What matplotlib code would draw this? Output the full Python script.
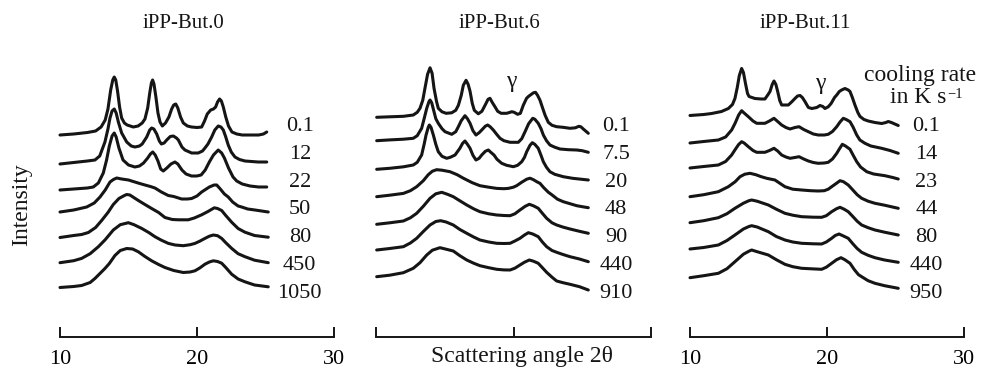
import matplotlib
matplotlib.use("Agg")
import matplotlib.pyplot as plt

plt.rcParams['font.family'] = ['Liberation Serif', 'DejaVu Serif']

# ---------------- data ----------------
titles = ["iPP-But.0", "iPP-But.6", "iPP-But.11"]
rates_but0 = ["0.1", "12", "22", "50", "80", "450", "1050"]
rates_but6 = ["0.1", "7.5", "20", "48", "90", "440", "910"]
rates_but11 = ["0.1", "14", "23", "44", "80", "440", "950"]

# vertical stacking offsets (intensity units)
offsets_but0 = [202, 173, 147, 125, 99.5, 74.3, 49.5]
offsets_but6 = [219.7, 196.3, 167.7, 140.3, 112.7, 87, 60.3]
offsets_but11 = [221.5, 194, 169, 140.3, 114.3, 88, 59.3]

xticks = [10, 20, 30]
xtick_labels = ["10", "20", "30"]

# (2theta, relative intensity)
but0_01 = [(10.0,0),(11.0,1),(12.0,2.5),(12.6,4),(13.0,8),(13.3,15),(13.5,26),(13.7,45),(13.85,55),(13.96,58),(14.07,55),(14.2,44),(14.35,28),(14.5,17),(14.7,12),(14.9,10),(15.35,8),(15.7,9),(16.0,12),(16.2,16),(16.4,27),(16.55,42),(16.67,52),(16.76,55),(16.86,51),(17.0,38),(17.15,22),(17.3,13),(17.47,9),(17.7,12),(17.95,18),(18.15,26),(18.3,30),(18.45,31),(18.6,27),(18.8,18),(19.0,12),(19.3,9),(19.6,8),(20.0,7.5),(20.34,8),(20.55,14),(20.75,21),(21.0,25),(21.2,26),(21.36,28),(21.5,33),(21.65,36),(21.78,34),(21.92,28),(22.1,18),(22.3,9),(22.55,3),(22.9,1),(23.3,0),(24.0,0),(24.5,0),(24.85,1),(25.09,3)]
but0_12 = [(10.0,0),(11.0,1.5),(12.0,3),(12.55,4),(12.9,8),(13.28,22),(13.5,35),(13.65,46),(13.8,53),(13.96,55),(14.1,51),(14.26,42),(14.5,31),(14.87,22),(15.2,18),(15.47,17),(15.8,18),(16.0,20),(16.33,27),(16.55,34),(16.69,36),(16.85,35),(17.06,30),(17.25,23),(17.4,20),(17.6,21),(17.79,24),(18.05,27.5),(18.27,28),(18.5,26),(18.64,24),(18.9,17),(19.12,14),(19.61,11),(20.09,11),(20.4,13),(20.58,16),(20.8,20),(21.07,27),(21.3,34),(21.55,38),(21.75,37),(21.92,34),(22.1,27),(22.28,19),(22.5,12),(22.77,7),(23.1,4.5),(23.5,3),(24.47,2),(25.09,2)]
but0_22 = [(10.0,0),(11.0,1),(12.0,2),(12.43,3),(12.8,7),(13.16,17),(13.4,30),(13.6,44),(13.8,54),(13.96,57),(14.1,53),(14.3,42),(14.6,30),(15.0,25),(15.47,23),(15.8,24),(16.1,27),(16.4,32),(16.6,36),(16.77,38),(16.95,35),(17.15,29),(17.35,21),(17.54,19),(17.8,22),(18.1,26),(18.39,28),(18.6,26),(18.9,20),(19.2,16),(19.6,14),(19.98,14),(20.3,15),(20.6,20),(20.9,28),(21.2,35),(21.55,40),(21.8,37),(22.0,32),(22.3,22),(22.63,13),(22.9,9),(23.3,6),(23.87,4),(24.5,3),(25.09,3)]
but0_50 = [(10.0,0),(11.0,2),(11.95,5),(12.5,9),(12.92,15),(13.3,22),(13.65,30),(13.9,32.5),(14.14,34),(14.5,33),(15.0,32),(15.23,31),(15.7,29),(16.2,27),(16.6,25.5),(16.93,24),(17.4,20),(17.9,16.5),(18.3,15.5),(18.88,13),(19.3,13),(19.61,13.5),(20.0,16),(20.34,20),(20.9,25),(21.25,27),(21.44,27),(21.7,23),(22.0,18),(22.28,15),(22.6,10),(23.0,6),(23.26,5),(23.7,3),(24.23,2),(25.2,0)]
but0_80 = [(10.0,0),(11.0,2),(11.58,3),(12.07,5),(12.6,10),(13.04,17),(13.5,25),(13.89,33),(14.3,39),(14.7,42),(14.87,43),(15.1,42.5),(15.72,37),(16.2,33),(16.69,29),(17.2,25),(17.66,20),(18.2,18),(18.64,17.7),(19.36,17.7),(19.8,19.5),(20.34,22.7),(20.8,26),(21.26,29.7),(21.5,29),(21.8,27),(22.1,22),(22.53,15.3),(23.0,9),(23.5,5.3),(24.2,2),(25.2,0.3)]
but0_450 = [(10.0,0),(11.0,2),(11.58,4.3),(12.2,9),(12.8,16),(13.3,23),(13.89,32.7),(14.4,38),(14.99,40),(15.4,38),(15.96,34.3),(16.5,30),(16.93,26),(17.4,22.5),(17.91,19.3),(18.4,17.7),(19.0,17),(19.5,18),(19.85,19.3),(20.2,21.5),(20.58,24.3),(20.9,26.5),(21.19,27.7),(21.5,27),(21.8,24.3),(22.1,20),(22.53,14.3),(23.0,9),(23.5,6),(24.2,2.5),(25.2,0)]
but0_1050 = [(10.0,0),(11.0,1),(11.58,2),(12.2,5),(12.55,9),(13.28,19),(13.6,24),(14.01,32),(14.4,37),(14.87,39),(15.3,38.5),(15.72,35.7),(16.2,31),(16.69,26.7),(17.2,23),(17.66,20),(18.3,17),(19.0,15),(19.5,15.5),(19.85,16.7),(20.2,19.5),(20.58,23.3),(20.9,25.5),(21.19,26.7),(21.5,26),(21.8,24.3),(22.1,20),(22.53,13.3),(23.0,8.5),(23.5,5.7),(24.2,2.5),(25.2,0.7)]

but6_01 = [(10.05,0),(11.0,0.5),(12.0,1),(12.71,2.3),(13.0,5),(13.2,9),(13.4,17),(13.56,29),(13.75,43),(13.93,49.5),(14.08,44),(14.22,29),(14.4,16),(14.53,9),(14.8,5.5),(15.1,4),(15.5,4.5),(15.8,7),(15.99,12),(16.2,22),(16.35,32),(16.55,37),(16.7,33),(16.84,26),(17.0,14),(17.15,7),(17.44,3.5),(17.7,6),(17.93,12),(18.15,18),(18.29,19),(18.45,15),(18.65,10.6),(18.85,6),(19.1,4),(19.5,4),(19.75,5),(19.87,5.6),(20.05,5),(20.3,3),(20.5,4),(20.71,12),(20.95,19),(21.1,21),(21.3,23),(21.45,24.5),(21.6,25),(21.75,22),(21.93,17),(22.1,10),(22.3,2),(22.53,-5),(22.8,-8),(23.14,-9.4),(23.6,-10),(24.11,-11),(24.5,-10.5),(24.75,-9),(24.9,-9.5),(25.1,-12),(25.44,-16)]
but6_75 = [(10.05,0),(11.0,0.8),(12.0,1.5),(12.71,2.4),(13.0,5),(13.32,12.4),(13.5,22),(13.69,32.4),(13.85,39),(13.93,40.7),(14.05,38),(14.2,30),(14.35,22),(14.53,17.4),(14.8,12),(15.02,9),(15.51,6.4),(15.8,9),(15.99,14),(16.2,20),(16.47,25),(16.65,22),(16.84,17.4),(17.05,10),(17.27,5.7),(17.5,8),(17.69,10.7),(17.95,14.5),(18.12,15.7),(18.3,14),(18.53,10.7),(18.8,6),(19.02,2.4),(19.3,0),(19.75,-1.6),(20.35,-1.6),(20.6,2),(20.84,9),(21.1,17),(21.4,22.4),(21.55,21.5),(21.8,17.4),(22.0,12),(22.17,5.7),(22.4,0),(22.65,-4.3),(23.0,-6.5),(23.38,-8.3),(24.0,-9),(24.6,-9.3),(25.0,-10),(25.44,-11.6)]
but6_20 = [(10.05,0),(11.0,1),(12.0,2.5),(12.71,4.3),(13.0,7),(13.32,14.3),(13.5,25),(13.64,34.3),(13.8,42),(13.88,44.3),(14.0,42),(14.17,34.3),(14.35,25),(14.53,17.6),(14.8,13),(15.14,11),(15.4,12),(15.75,14.3),(16.1,21),(16.3,26),(16.47,28.3),(16.65,25),(16.84,21),(17.05,14),(17.27,9.3),(17.5,11),(17.69,14.3),(17.95,18),(18.17,19.3),(18.35,17),(18.58,14.3),(18.8,10),(19.14,6),(19.5,4),(19.99,2.6),(20.3,4),(20.6,7.6),(20.8,12),(20.96,17.6),(21.2,24),(21.37,26.6),(21.55,25),(21.8,21),(22.0,14),(22.17,7.6),(22.4,2),(22.65,-2.4),(23.0,-5),(23.62,-7.4),(24.3,-9),(25.44,-10.7)]
but6_48 = [(10.05,0),(11.0,1.5),(11.99,3.3),(12.5,6),(12.96,10),(13.44,16),(13.8,22),(14.1,25.5),(14.41,27),(14.8,26.5),(15.38,25),(15.9,22),(16.35,18.5),(17.0,14),(17.56,11),(18.2,9.5),(18.78,8.3),(19.3,8),(19.62,8.3),(19.99,9.5),(20.23,11),(20.6,14.5),(20.96,17.5),(21.2,18.5),(21.45,17),(21.69,15),(21.93,13.3),(22.2,9),(22.53,4.5),(22.78,2),(23.2,-2.5),(23.62,-5),(24.11,-7),(24.6,-9),(25.0,-10),(25.44,-11)]
but6_90 = [(10.05,0),(11.0,1.5),(11.99,3.3),(12.5,6.5),(12.96,11),(13.44,18),(13.93,26),(14.35,30.5),(14.78,32),(15.2,30),(15.62,27.6),(16.1,23.5),(16.6,19.3),(17.1,15.5),(17.56,12.6),(18.2,10.5),(18.78,9.3),(19.3,8.8),(19.75,8.6),(20.1,10.5),(20.47,14.3),(20.85,18),(21.15,20),(21.45,18.5),(21.8,16),(22.1,11),(22.41,6),(22.8,1.5),(23.14,-0.7),(23.6,-2.8),(24.11,-4.7),(24.8,-7),(25.44,-9)]
but6_440 = [(10.05,0),(11.0,1.5),(11.99,3.3),(12.5,7),(12.96,11.7),(13.44,18.5),(13.93,25),(14.35,28.5),(14.7,29.3),(15.1,28),(15.62,25),(16.1,20.5),(16.6,16.7),(17.1,13),(17.56,10),(18.2,8),(18.78,6.7),(19.3,6.5),(19.75,6.7),(20.1,9),(20.47,11.7),(20.8,15),(21.08,17.3),(21.4,16),(21.8,13.3),(22.1,8),(22.41,3.3),(22.8,-0.5),(23.14,-2.3),(23.6,-4.5),(24.11,-6.7),(24.8,-9),(25.44,-11.7)]
but6_910 = [(10.05,0),(11.0,1.5),(11.99,4),(12.71,8.4),(13.2,14),(13.69,21.7),(14.1,26.5),(14.65,29),(15.1,27.5),(15.62,25.7),(16.1,21),(16.6,16.7),(17.1,13.5),(17.56,11),(18.2,9),(18.78,7.4),(19.3,6.8),(19.75,6.7),(20.1,8.5),(20.47,11.7),(20.8,14.5),(21.15,16.7),(21.45,15.5),(21.8,13.4),(22.1,9),(22.41,4.4),(22.8,-0.5),(23.14,-4.3),(23.6,-6),(24.11,-7.6),(24.8,-10),(25.44,-13.3)]

but11_01 = [(10.0,0),(11.0,1),(11.58,2),(12.3,4),(12.8,7),(13.1,11),(13.28,17),(13.45,28),(13.6,40),(13.77,47),(13.9,43),(14.05,32),(14.2,22),(14.31,19),(14.74,17),(15.2,16.5),(15.47,16.5),(15.7,21),(15.84,24),(16.0,31),(16.13,34.5),(16.27,31),(16.4,24),(16.55,15),(16.69,10.5),(17.18,10.5),(17.45,14),(17.66,17),(17.85,19.5),(18.03,20),(18.2,18),(18.39,14),(18.64,8),(18.9,7),(19.25,8),(19.49,10),(19.7,9),(19.85,7),(20.09,8.7),(20.3,12),(20.55,18),(20.71,20.5),(20.9,24),(21.07,25.5),(21.31,27),(21.55,25.5),(21.68,24),(21.85,18),(22.04,10.5),(22.25,3),(22.41,-1),(22.7,-4),(23.01,-5.5),(23.5,-7),(23.99,-8),(24.3,-7),(24.47,-6),(24.7,-7),(24.95,-8.5),(25.2,-10)]
but11_14 = [(10.0,0),(11.0,1.5),(12.07,3),(12.6,6),(13.04,13),(13.3,20),(13.55,28),(13.77,32.3),(13.95,30),(14.26,26.3),(14.6,22),(14.87,19.7),(15.47,19.7),(15.8,22),(16.13,24.7),(16.4,21.5),(16.69,18),(17.0,15.5),(17.3,14),(17.66,15.5),(17.96,16.3),(18.3,13.5),(18.64,11.3),(19.0,9),(19.36,8),(19.8,8),(20.09,8.7),(20.4,11.5),(20.71,16.3),(20.95,21),(21.19,24.7),(21.4,23.5),(21.68,21.3),(21.9,16),(22.17,8),(22.4,3),(22.77,-0.3),(23.2,-3),(23.99,-5.3),(24.6,-7.5),(25.2,-10.3)]
but11_23 = [(10.0,0),(11.0,1.5),(12.07,3),(12.6,6.5),(13.04,13),(13.3,18.5),(13.55,23.5),(13.77,26.3),(13.95,25),(14.26,21.3),(14.6,17.5),(14.87,15.7),(15.47,15.7),(15.8,17.5),(16.13,19.7),(16.4,17),(16.69,13),(17.0,11),(17.3,9.7),(17.65,10.5),(17.96,11.3),(18.3,9),(18.64,7),(19.0,5.5),(19.36,4.7),(19.8,5),(20.09,5.7),(20.4,9),(20.71,14.7),(20.9,19),(21.12,23.7),(21.35,22),(21.68,18.7),(21.9,13),(22.17,6.3),(22.45,1),(22.9,-3.7),(23.4,-6),(24.23,-7.7),(24.8,-9.5),(25.2,-11)]
but11_44 = [(10.0,0),(11.0,2),(12.07,5),(12.8,10),(13.3,15),(13.65,20),(14.0,22.5),(14.38,23.4),(14.8,22),(15.2,20),(15.6,18.4),(16.2,16.7),(16.93,10),(17.5,7.5),(18.15,6.7),(18.8,6),(19.36,5.7),(19.8,6),(20.09,7.5),(20.34,10),(20.7,13.5),(20.95,16),(21.2,15),(21.55,11.7),(21.8,8),(22.2,2),(22.53,-1.6),(23.0,-4.5),(23.5,-6.6),(24.2,-8.5),(25.2,-11.6)]
but11_80 = [(10.0,0),(11.0,2),(12.07,5),(12.7,9),(13.28,14.4),(13.9,19.5),(14.3,22),(14.5,22.7),(14.9,21.5),(15.72,17.7),(16.3,13.5),(16.93,9.4),(17.5,7.5),(18.15,6),(19.0,5.5),(19.61,5.4),(19.95,7),(20.34,11),(20.7,14),(20.95,15.4),(21.25,13.5),(21.55,11),(21.9,6),(22.2,1.5),(22.53,-2.3),(23.0,-5),(23.5,-7.3),(24.2,-9.5),(25.2,-12.3)]
but11_440 = [(10.0,0),(11.0,1.5),(12.07,4),(12.7,8.5),(13.28,14),(13.9,20),(14.3,22.5),(14.5,23.3),(14.9,22),(15.72,17.3),(16.3,12.5),(16.93,9),(17.5,7),(18.15,5.7),(19.0,5.2),(19.61,5),(19.95,7),(20.34,10.7),(20.6,13.5),(20.88,15),(21.2,13),(21.55,10.7),(21.9,5),(22.2,0.5),(22.53,-3.3),(23.0,-6.3),(23.5,-8.7),(24.2,-11),(25.2,-13.3)]
but11_950 = [(10.0,0),(11.0,2),(12.07,4.4),(12.7,9),(13.28,16),(13.9,23.5),(14.3,26.5),(14.5,27.7),(14.9,26),(15.72,22.7),(16.3,18),(16.93,13.4),(17.5,11),(18.15,9.4),(19.0,8.8),(19.61,8.4),(19.95,10.5),(20.34,14.4),(20.7,18),(21.02,20),(21.3,18),(21.68,14.4),(22.0,8),(22.3,3),(22.53,1),(23.0,-3),(23.5,-5.6),(24.2,-8),(25.2,-10.6)]

curves_but0 = [but0_01, but0_12, but0_22, but0_50, but0_80, but0_450, but0_1050]
curves_but6 = [but6_01, but6_75, but6_20, but6_48, but6_90, but6_440, but6_910]
curves_but11 = [but11_01, but11_14, but11_23, but11_44, but11_80, but11_440, but11_950]

# ---------------- layout ----------------
W, H = 981, 370
fig = plt.figure(figsize=(W / 100, H / 100), dpi=100)
fig.patch.set_facecolor('white')

panel_left = [60, 376, 690]
panel_width = [274, 275, 274]
axis_y = 337  # pixel row of the x axis line
YMAX = axis_y

ink = '#151515'
panels = [
    (titles[0], rates_but0, offsets_but0, curves_but0, 19.0, 27.5),
    (titles[1], rates_but6, offsets_but6, curves_but6, 18.95, 27.45),
    (titles[2], rates_but11, offsets_but11, curves_but11, 18.45, 27.25),
]

for i, (title, rates, offs, curves, tx, lx) in enumerate(panels):
    ax = fig.add_axes([panel_left[i] / W, (H - axis_y) / H,
                       panel_width[i] / W, axis_y / H])
    ax.set_xlim(10, 30)
    ax.set_ylim(0, YMAX)
    ax.patch.set_alpha(0)
    for s in ['left', 'right', 'top']:
        ax.spines[s].set_visible(False)
    ax.spines['bottom'].set_linewidth(1.4)
    ax.spines['bottom'].set_color(ink)
    ax.set_yticks([])
    ax.set_xticks(xticks)
    ax.set_xticklabels(xtick_labels)
    ax.tick_params(axis='x', direction='in', length=7.5, width=1.4,
                   color=ink, labelsize=16, pad=9,
                   labelbottom=(i != 1))

    for off, pts in zip(offs, curves):
        xs = [p[0] for p in pts]
        ys = [off + p[1] for p in pts]
        ax.plot(xs, ys, color=ink, lw=2.2, solid_joinstyle='round',
                solid_capstyle='round', clip_on=False)

    for k, r in enumerate(rates):
        base_px = 131 + k * 27.8
        ax.text(lx, axis_y - base_px, r, ha='center', va='baseline',
                fontsize=16, color=ink, clip_on=False)

    ax.text(tx, axis_y - 28.5, title, ha='center', va='baseline',
            fontsize=15, color=ink)

    if i == 1:
        ax.text(19.87, axis_y - 87, "γ", ha='center', va='baseline',
                fontsize=17, color=ink)
        ax.text(20.6, axis_y - 362, "Scattering angle 2θ", ha='center',
                va='baseline', fontsize=17, color=ink, clip_on=False)
    if i == 2:
        ax.text(19.49, axis_y - 88.5, "γ", ha='center', va='baseline',
                fontsize=17, color=ink)
        ax.text(26.8, axis_y - 81, "cooling rate", ha='center',
                va='baseline', fontsize=17, color=ink, clip_on=False)
        # "in K s" followed by a raised "−1"
        ax.text(24.6, axis_y - 103, "in K s", ha='left',
                va='baseline', fontsize=17, color=ink, clip_on=False)
        ax.text(28.78, axis_y - 97.5, "\u22121", ha='left',
                va='baseline', fontsize=10.5, color=ink, clip_on=False)

fig.text(22 / W, 1 - 205 / H, "Intensity", rotation=90, ha='center',
         va='center', fontsize=17, color=ink)

fig.savefig("out.png", dpi=100, facecolor='white')
